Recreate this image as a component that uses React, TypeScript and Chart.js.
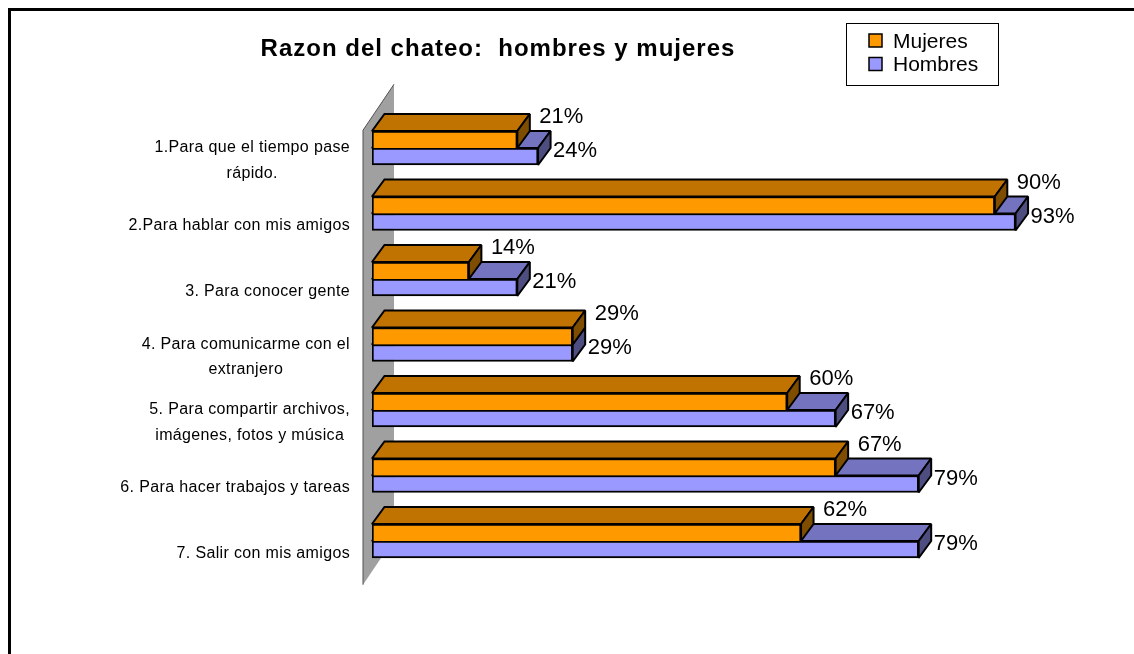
import React, { useEffect, useRef } from "react";
import { Chart, registerables } from "chart.js";

Chart.register(...registerables);

// ---- data ----
const categories: string[][] = [
  ["1.Para que el tiempo pase", "rápido."],
  ["2.Para hablar con mis amigos"],
  ["3. Para conocer gente"],
  ["4. Para comunicarme con el", "extranjero"],
  ["5. Para compartir archivos,", "imágenes, fotos y música"],
  ["6. Para hacer trabajos y tareas"],
  ["7. Salir con mis amigos"],
];
const mujeres = [21, 90, 14, 29, 60, 67, 62];
const hombres = [24, 93, 21, 29, 67, 79, 79];
const seriesNames = ["Mujeres", "Hombres"];
const titleText = "Razon del chateo:  hombres y mujeres";

// ---- styles ----
const FONT = "'Liberation Sans', Arial, sans-serif";
const ORANGE = "#FF9900";
const ORANGE_TOP = "#C07300";
const ORANGE_SIDE = "#7F4D00";
const BLUE = "#9999FF";
const BLUE_TOP = "#7373BF";
const BLUE_SIDE = "#4D4D80";
const WALL = "#A0A0A0";
const DX = 12.5;
const DY = -17;
const WALL_DX = 31;
const WALL_DY = -46;

function poly(ctx: CanvasRenderingContext2D, pts: number[][], fill: string) {
  ctx.beginPath();
  ctx.moveTo(pts[0][0], pts[0][1]);
  for (let i = 1; i < pts.length; i++) ctx.lineTo(pts[i][0], pts[i][1]);
  ctx.closePath();
  ctx.fillStyle = fill;
  ctx.fill();
  ctx.lineWidth = 2;
  ctx.strokeStyle = "#000";
  ctx.lineJoin = "miter";
  ctx.miterLimit = 1.5;
  ctx.stroke();
}

function faces(ctx: CanvasRenderingContext2D, el: any, topC: string, sideC: string) {
  const p = el.getProps(["x", "y", "base", "height"], true);
  const t = p.y - p.height / 2;
  const b = p.y + p.height / 2;
  poly(ctx, [[p.base, t], [p.x, t], [p.x + DX, t + DY], [p.base + DX, t + DY]], topC);
  poly(ctx, [[p.x, t], [p.x + DX, t + DY], [p.x + DX, b + DY], [p.x, b]], sideC);
}

const threeD = {
  id: "threeD",
  beforeDatasetsDraw(chart: any) {
    const ctx: CanvasRenderingContext2D = chart.ctx;
    const xs = chart.scales.x;
    const area = chart.chartArea;
    ctx.save();
    // side wall
    const wx = xs.getPixelForValue(0) - 9;
    const wt = area.top + 15;
    const wb = area.bottom + 11;
    ctx.beginPath();
    ctx.moveTo(wx, wt);
    ctx.lineTo(wx + WALL_DX, wt + WALL_DY);
    ctx.lineTo(wx + WALL_DX, wb + WALL_DY);
    ctx.lineTo(wx, wb);
    ctx.closePath();
    ctx.fillStyle = WALL;
    ctx.fill();
    ctx.beginPath();
    ctx.moveTo(wx, wb);
    ctx.lineTo(wx, wt);
    ctx.lineTo(wx + WALL_DX, wt + WALL_DY);
    ctx.strokeStyle = "#505050";
    ctx.lineWidth = 1;
    ctx.stroke();
    // 3D faces
    const mM = chart.getDatasetMeta(0).data;
    const mH = chart.getDatasetMeta(1).data;
    for (let i = 0; i < mM.length; i++) {
      faces(ctx, mH[i], BLUE_TOP, BLUE_SIDE);
      faces(ctx, mM[i], ORANGE_TOP, ORANGE_SIDE);
    }
    ctx.restore();
  },
  afterDraw(chart: any) {
    const ctx: CanvasRenderingContext2D = chart.ctx;
    const xs = chart.scales.x;
    const ys = chart.scales.y;
    ctx.save();
    ctx.fillStyle = "#000";

    // category labels
    ctx.font = `16px ${FONT}`;
    (ctx as any).letterSpacing = "0.35px";
    ctx.textAlign = "center";
    ctx.textBaseline = "middle";
    const right = xs.getPixelForValue(0) - 22;
    const LH = 25.5;
    categories.forEach((lines, i) => {
      const c = ys.getPixelForValue(i);
      const maxW = Math.max(...lines.map((l) => ctx.measureText(l).width));
      const cx = right - maxW / 2;
      const mid = c + 12.5;
      const y0 = mid - ((lines.length - 1) * LH) / 2;
      lines.forEach((l, k) => ctx.fillText(l, cx, y0 + k * LH));
    });

    // data labels
    ctx.font = `22px ${FONT}`;
    (ctx as any).letterSpacing = "0px";
    ctx.textAlign = "left";
    ctx.textBaseline = "alphabetic";
    const mM = chart.getDatasetMeta(0).data;
    const mH = chart.getDatasetMeta(1).data;
    mM.forEach((el: any, i: number) => {
      const p = el.getProps(["x", "y", "height"], true);
      ctx.fillText(`${mujeres[i]}%`, p.x + 22, p.y - p.height / 2 - 8);
    });
    mH.forEach((el: any, i: number) => {
      const p = el.getProps(["x", "y", "height"], true);
      ctx.fillText(`${hombres[i]}%`, p.x + 15, p.y - p.height / 2 + 9);
    });

    // title
    ctx.font = `bold 24px ${FONT}`;
    (ctx as any).letterSpacing = "1px";
    ctx.textAlign = "center";
    ctx.fillText(titleText, 498, 56);
    (ctx as any).letterSpacing = "0px";

    // legend
    ctx.lineWidth = 1;
    ctx.strokeStyle = "#000";
    ctx.strokeRect(846.5, 23.5, 152, 62);
    const colors = [ORANGE, BLUE];
    ctx.font = `21px ${FONT}`;
    ctx.textAlign = "left";
    seriesNames.forEach((n, k) => {
      const yTop = 34 + k * 23.5;
      ctx.fillStyle = colors[k];
      ctx.fillRect(869, yTop, 13, 13);
      ctx.lineWidth = 1.5;
      ctx.strokeRect(869, yTop, 13, 13);
      ctx.fillStyle = "#000";
      ctx.fillText(n, 893, yTop + 13.5);
    });

    // outer frame (top and left edges visible)
    ctx.lineWidth = 3;
    ctx.beginPath();
    ctx.moveTo(9.5, 660);
    ctx.lineTo(9.5, 9.5);
    ctx.lineTo(1140, 9.5);
    ctx.stroke();
    ctx.restore();
  },
};

export default function App() {
  const ref = useRef<HTMLCanvasElement>(null);
  useEffect(() => {
    const canvas = ref.current!;
    const chart = new Chart(canvas, {
      type: "bar",
      data: {
        labels: categories.map((c) => c.join(" ")),
        datasets: [
          {
            label: seriesNames[0],
            data: mujeres,
            backgroundColor: ORANGE,
            borderColor: "#000",
            borderWidth: 2,
            borderSkipped: "bottom",
            barThickness: 17,
          },
          {
            label: seriesNames[1],
            data: hombres,
            backgroundColor: BLUE,
            borderColor: "#000",
            borderWidth: 2,
            borderSkipped: false,
            barThickness: 17,
          },
        ],
      },
      options: {
        indexAxis: "y",
        responsive: false,
        animation: false,
        events: [],
        layout: { padding: { left: 372, right: 70, top: 115.25, bottom: 80.25 } },
        scales: {
          x: { display: false, min: 0, max: 100 },
          y: { display: false },
        },
        plugins: {
          legend: { display: false },
          title: { display: false },
          tooltip: { enabled: false },
        },
      },
      plugins: [threeD],
    } as any);
    return () => chart.destroy();
  }, []);
  return (
    <div style={{ position: "fixed", left: 0, top: 0, width: 1134, height: 654, background: "#fff" }}>
      <canvas ref={ref} width={1134} height={654} style={{ display: "block" }} />
    </div>
  );
}
